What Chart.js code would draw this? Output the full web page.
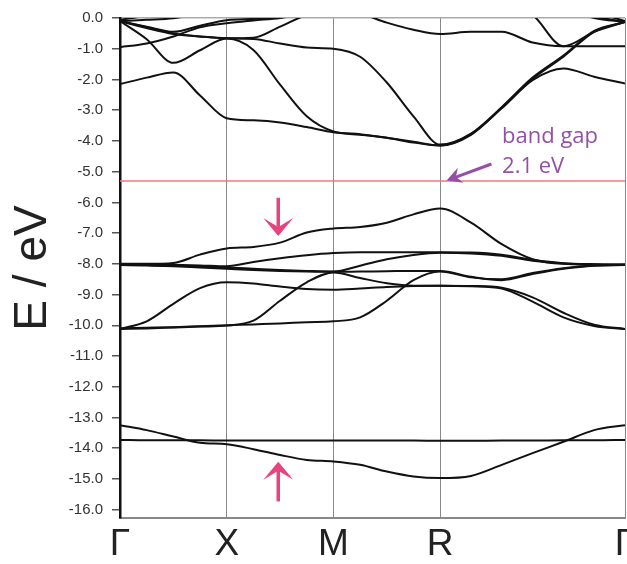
<!DOCTYPE html>
<html>
<head>
<meta charset="utf-8">
<script src="https://cdn.jsdelivr.net/npm/chart.js@4.4.1/dist/chart.umd.min.js"></script>
<style>
  html, body { margin: 0; padding: 0; background: #fff; }
  #wrap { width: 627px; height: 564px; }
</style>
</head>
<body>
<div id="wrap"><canvas id="bandChart" width="627" height="564"></canvas></div>
<script>
  // k-path: Γ - X - M - R - Γ (cubic, R-Γ is √3 long)
  const kPath = [0, 0.25, 0.5, 0.75, 1, 1.25, 1.5, 1.75, 2, 2.25, 2.5, 2.75, 3, 3.289, 3.577, 3.866, 4.155, 4.443, 4.732];
  const symPoints = [0, 1, 2, 3, 4.732];
  const symLabels = ['Γ', 'X', 'M', 'R', 'Γ'];
  const fermiLevel = -5.3;

  // valence bands near the top (values above 0 are cut off by the axis)
  const upperBands = [
    [-2.15, -1.94, -1.77, -2.52, -3.26, -3.33, -3.4, -3.55, -3.72, -3.8, -3.9, -4.05, -4.15, -3.78, -2.94, -2.02, -1.64, -1.91, -2.13],
    [-0.1, -0.69, -1.46, -1.05, -0.67, -1.04, -2.17, -3.2, -3.69, -3.78, -3.9, -4.03, -4.15, -3.8, -2.92, -1.98, -1.26, -0.45, -0.13],
    [-0.1, -0.33, -0.52, -0.6, -0.66, -0.68, -0.83, -0.96, -1.0, -1.26, -2.1, -3.2, -4.12, -3.76, -2.9, -1.94, -1.22, -0.42, -0.13],
    [-0.95, -0.83, -0.6, -0.3, -0.17, -0.08, 0.0, 0.15, 0.3, 0.45, 0.6, 0.7, 0.75, 0.7, 0.5, 0.1, -0.92, -0.92, -0.92],
    [-0.1, -0.3, -0.5, -0.6, -0.66, -0.64, -0.28, 0.1, 0.3, 0.15, -0.15, -0.38, -0.52, -0.45, -0.45, -0.8, -0.92, -0.45, -0.13],
    [-0.1, -0.28, -0.45, -0.25, -0.07, -0.03, 0.02, 0.15, 0.3, 0.5, 0.6, 0.7, 0.7, 0.7, 0.6, 0.45, 0.3, 0.05, -0.13],
    [-0.06, 0.08, 0.3, 0.5, 0.6, 0.7, 0.8, 0.8, 0.8, 0.8, 0.8, 0.8, 0.8, 0.8, 0.7, 0.5, 0.3, 0.0, -0.13],
    [-0.1, -0.06, -0.01, 0.15, 0.3, 0.5, 0.6, 0.7, 0.8, 0.9, 0.9, 0.9, 0.9, 0.9, 0.9, 0.8, 0.5, 0.2, -0.1]
  ];

  // bands between -6 and -10
  const middleBands = [
    [-8.0, -8.0, -7.97, -7.7, -7.5, -7.45, -7.31, -6.98, -6.85, -6.8, -6.66, -6.39, -6.2, -6.66, -7.36, -7.85, -8.0, -8.02, -8.03],
    [-8.02, -8.02, -8.03, -8.05, -8.08, -7.94, -7.82, -7.72, -7.65, -7.62, -7.62, -7.62, -7.62, -7.63, -7.7, -7.87, -7.98, -8.01, -8.02],
    [-8.03, -8.04, -8.06, -8.09, -8.12, -8.16, -8.2, -8.23, -8.25, -8.06, -7.85, -7.71, -7.64, -7.66, -7.74, -7.9, -7.99, -8.02, -8.03],
    [-8.04, -8.05, -8.08, -8.12, -8.16, -8.2, -8.23, -8.25, -8.26, -8.25, -8.24, -8.23, -8.23, -8.42, -8.53, -8.33, -8.16, -8.06, -8.04],
    [-10.12, -10.1, -10.07, -10.04, -10.01, -9.85, -9.2, -8.6, -8.28, -8.46, -8.63, -8.71, -8.71, -8.73, -8.8, -9.23, -9.74, -10.02, -10.12],
    [-10.12, -9.87, -9.3, -8.79, -8.6, -8.64, -8.74, -8.82, -8.84, -8.8, -8.75, -8.72, -8.71, -8.72, -8.78, -9.09, -9.59, -9.98, -10.12],
    [-10.1, -10.08, -10.06, -10.03, -10.0, -9.97, -9.94, -9.9, -9.87, -9.74, -9.2, -8.53, -8.25, -8.44, -8.5, -8.3, -8.14, -8.05, -8.03]
  ];

  // deep bands around -14
  const lowerBands = [
    [-13.73, -13.74, -13.74, -13.74, -13.75, -13.75, -13.75, -13.75, -13.75, -13.75, -13.75, -13.75, -13.76, -13.76, -13.75, -13.75, -13.74, -13.74, -13.73],
    [-13.25, -13.41, -13.62, -13.82, -13.87, -14.03, -14.22, -14.38, -14.43, -14.54, -14.76, -14.92, -14.97, -14.9, -14.54, -14.16, -13.79, -13.41, -13.25]
  ];

  const toPoints = band => band.map((e, i) => ({ x: kPath[i], y: e }));

  const bandDataset = band => ({
    data: toPoints(band),
    showLine: true,
    borderColor: '#111',
    borderWidth: 2,
    pointRadius: 0,
    cubicInterpolationMode: 'monotone'
  });

  const datasets = [
    {
      data: [{ x: symPoints[0], y: fermiLevel }, { x: symPoints[symPoints.length - 1], y: fermiLevel }],
      showLine: true,
      borderColor: '#f27878',
      borderWidth: 1.5,
      pointRadius: 0
    },
    ...upperBands.map(bandDataset),
    ...middleBands.map(bandDataset),
    ...lowerBands.map(bandDataset)
  ];

  const drawArrow = (ctx, x0, y0, x1, y1, color, shaft, headLen, headHalf, notch) => {
    const ang = Math.atan2(y1 - y0, x1 - x0);
    const len = Math.hypot(x1 - x0, y1 - y0);
    ctx.save();
    ctx.translate(x1, y1);
    ctx.rotate(ang);
    ctx.strokeStyle = color;
    ctx.fillStyle = color;
    ctx.lineWidth = shaft;
    ctx.beginPath();
    ctx.moveTo(-len, 0);
    ctx.lineTo(-headLen + notch, 0);
    ctx.stroke();
    ctx.beginPath();
    ctx.moveTo(0, 0);
    ctx.lineTo(-headLen, -headHalf);
    ctx.lineTo(-headLen + notch, 0);
    ctx.lineTo(-headLen, headHalf);
    ctx.closePath();
    ctx.fill();
    ctx.restore();
  };

  const annotations = {
    id: 'annotations',
    afterDatasetsDraw(chart) {
      const { ctx, scales: { x, y } } = chart;
      ctx.save();
      // band gap label
      ctx.fillStyle = '#9450a8';
      ctx.font = '22px "Open Sans", sans-serif';
      ctx.textAlign = 'left';
      ctx.textBaseline = 'alphabetic';
      ctx.fillText('band gap', x.getPixelForValue(3.58), y.getPixelForValue(-4.07));
      ctx.fillText('2.1 eV', x.getPixelForValue(3.58), y.getPixelForValue(-5.04));
      drawArrow(ctx, x.getPixelForValue(3.48), y.getPixelForValue(-4.75),
        x.getPixelForValue(3.06), y.getPixelForValue(-5.29), '#9450a8', 3, 15, 8, 5);
      // pink markers
      drawArrow(ctx, x.getPixelForValue(1.483), y.getPixelForValue(-5.85),
        x.getPixelForValue(1.483), y.getPixelForValue(-7.09), '#e8437c', 3.5, 18, 15, 9);
      drawArrow(ctx, x.getPixelForValue(1.483), y.getPixelForValue(-15.73),
        x.getPixelForValue(1.483), y.getPixelForValue(-14.44), '#e8437c', 3.5, 18, 15, 9);
      ctx.restore();
    }
  };

  new Chart(document.getElementById('bandChart'), {
    type: 'scatter',
    data: { datasets },
    options: {
      responsive: false,
      animation: false,
      layout: { padding: { top: 16, right: 2, left: 0, bottom: 0 } },
      plugins: {
        legend: { display: false },
        tooltip: { enabled: false }
      },
      scales: {
        x: {
          type: 'linear',
          min: symPoints[0],
          max: symPoints[symPoints.length - 1],
          afterBuildTicks: s => { s.ticks = symPoints.map(v => ({ value: v })); },
          afterFit: s => { s.height = 46; s.paddingLeft = 0; s.paddingRight = 0; },
          ticks: {
            autoSkip: false,
            maxRotation: 0,
            padding: 5,
            color: '#222',
            font: { family: "'Liberation Sans', sans-serif", size: 37 },
            callback: (v, i) => symLabels[i]
          },
          grid: { color: '#888', lineWidth: 1, drawTicks: false },
          border: { color: '#888', width: 2 }
        },
        y: {
          min: -16.27,
          max: 0,
          afterFit: s => { s.width = 120; },
          ticks: {
            stepSize: 1,
            includeBounds: false,
            padding: 9,
            color: '#333',
            font: { family: "'Liberation Sans', sans-serif", size: 15 },
            callback: v => v.toFixed(1)
          },
          grid: {
            drawOnChartArea: true,
            color: c => (c.tick && c.tick.value === 0 ? '#aaa' : 'rgba(0,0,0,0)'),
            tickColor: '#555',
            tickLength: 8,
            lineWidth: 1.5
          },
          border: { color: '#111', width: 2.5 },
          title: {
            display: true,
            text: 'E / eV',
            color: '#222',
            padding: { top: 6, bottom: 0 },
            font: { family: "'Liberation Sans', sans-serif", size: 46 }
          }
        }
      }
    },
    plugins: [annotations]
  });
</script>
</body>
</html>
